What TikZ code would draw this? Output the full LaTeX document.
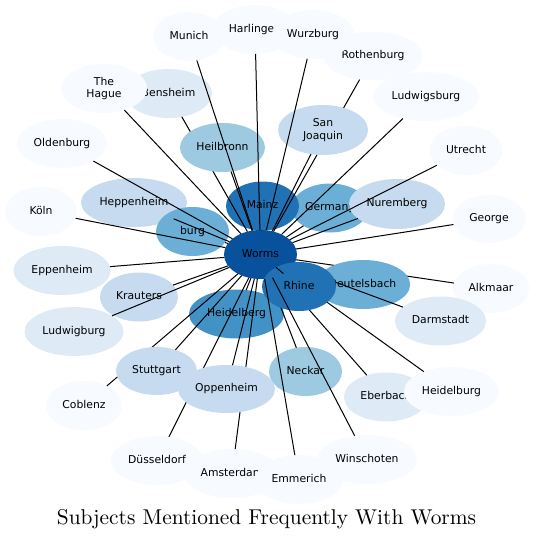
\documentclass[tikz,border=0pt]{standalone}
\usepackage{fontspec}
\newfontfamily\djv{DejaVu Sans}
\newfontfamily\lmten{lmroman10-regular}[Extension=.otf]
\usetikzlibrary{shapes.geometric}
\definecolor{cA}{HTML}{F7FBFF}
\definecolor{cB}{HTML}{DEEBF7}
\definecolor{cC}{HTML}{C6DBEF}
\definecolor{cD}{HTML}{9ECAE1}
\definecolor{cE}{HTML}{6BAED6}
\definecolor{cF}{HTML}{4292C6}
\definecolor{cG}{HTML}{2171B5}
\definecolor{cH}{HTML}{08519C}
\tikzset{
  city/.style={ellipse, inner sep=0pt, outer sep=0pt, draw=none,
    font=\djv\fontsize{10.8}{12.4}\selectfont, text=black,
    text height=0.7em, text depth=0.15em},
  twoline/.style={align=center, text height=, text depth=},
  wire/.style={line width=1pt, black},
  titlefont/.style={font=\lmten\fontsize{21.4}{25}\selectfont}
}
\begin{document}
\begin{tikzpicture}[x=1pt,y=-1pt]
\useasboundingbox (0,0) rectangle (534,540);
% ---------- phase 1 nodes ----------
\node[city, fill=cA, minimum width=72pt, minimum height=49pt] (munich) at (189,36.5) {Munich};
\node[city, fill=cA, minimum width=84pt, minimum height=49pt] (harlingen) at (255,29.5) {Harlingen};
\node[city, fill=cA, minimum width=99pt, minimum height=49pt] (rothenburg) at (373,56) {Rothenburg};
\node[city, fill=cA, minimum width=82pt, minimum height=49pt] (wurzburg) at (313,34.5) {Wurzburg};
\node[city, fill=cA, minimum width=106pt, minimum height=49pt] (ludwigsburg) at (426,96.5) {Ludwigsburg};
\node[city, fill=cA, minimum width=73pt, minimum height=49pt] (utrecht) at (466,150.5) {Utrecht};
\node[city, fill=cB, minimum width=87pt, minimum height=49pt] (bensheim) at (168.5,93.5) {Bensheim};
\node[city, twoline, fill=cA, minimum width=86pt, minimum height=49pt] (hague) at (104,88.5) {The\\Hague};
\node[city, fill=cA, minimum width=90pt, minimum height=49pt] (oldenburg) at (62,143.5) {Oldenburg};
\node[city, fill=cA, minimum width=72pt, minimum height=49pt] (koln) at (41,211.5) {Köln};
\node[city, fill=cC, minimum width=106pt, minimum height=49pt] (heppenheim) at (134,202.5) {Heppenheim};
\node[city, fill=cE, minimum width=73pt, minimum height=49pt] (burg) at (192.5,231.5) {burg};
\node[city, fill=cE, minimum width=77pt, minimum height=49pt] (germany) at (330,208) {Germany};
\node[city, fill=cG, minimum width=73pt, minimum height=49pt] (mainz) at (262.5,206) {Mainz};
\node[city, fill=cC, minimum width=96pt, minimum height=50pt] (nuremberg) at (397,204) {Nuremberg};
\node[city, fill=cA, minimum width=73pt, minimum height=48pt] (george) at (489,219) {George};
\node[city, fill=cB, minimum width=97pt, minimum height=49pt] (eppenheim) at (62,270.5) {Eppenheim};
\node[city, fill=cB, minimum width=99pt, minimum height=49pt] (ludwigburg) at (74,331.5) {Ludwigburg};
\node[city, fill=cC, minimum width=78pt, minimum height=49pt] (krauters) at (139,297) {Krauters};
\node[city, fill=cH, minimum width=73pt, minimum height=49pt] (worms) at (260.5,254.5) {Worms};
\node[city, fill=cF, minimum width=95pt, minimum height=49pt] (heidelberg) at (236.5,314) {Heidelberg};
\node[city, fill=cA, minimum width=76pt, minimum height=49pt] (alkmaar) at (491,288.5) {Alkmaar};
\node[city, fill=cB, minimum width=91pt, minimum height=49pt] (darmstadt) at (440.5,321) {Darmstadt};
\node[city, fill=cA, minimum width=76pt, minimum height=49pt] (coblenz) at (84,405.5) {Coblenz};
\node[city, fill=cA, minimum width=92pt, minimum height=49pt] (dusseldorf) at (157,460.5) {Düsseldorf};
\node[city, fill=cA, minimum width=97pt, minimum height=49pt] (amsterdam) at (232,473.5) {Amsterdam};
\node[city, fill=cA, minimum width=88pt, minimum height=49pt] (emmerich) at (299,479.5) {Emmerich};
\node[city, fill=cA, minimum width=100pt, minimum height=49pt] (winschoten) at (367,459.5) {Winschoten};
\node[city, fill=cD, minimum width=73pt, minimum height=49pt] (neckar) at (305.5,371.5) {Neckar};
\node[city, fill=cB, minimum width=84pt, minimum height=49pt] (eberbach) at (386,397) {Eberbach};
\node[city, fill=cA, minimum width=95pt, minimum height=49pt] (heidelburg) at (451.5,391.5) {Heidelburg};
% ---------- phase 1 edges ----------
\draw[wire] (worms) -- (bensheim);
\draw[wire] (worms) -- (rothenburg);
\draw[wire] (worms) -- (coblenz);
\draw[wire] (worms) -- (dusseldorf);
\draw[wire] (worms) -- (amsterdam);
\draw[wire] (worms) -- (alkmaar);
\draw[wire] (worms) -- (neckar);
\draw[wire] (worms) -- (eberbach);
\draw[wire] (worms) -- (heidelburg);
% ---------- phase 2 nodes ----------
\node[city, fill=cD, minimum width=85pt, minimum height=49pt] (heilbronn) at (222.5,147.5) {Heilbronn};
\node[city, twoline, fill=cC, minimum width=90pt, minimum height=50pt] (sanjoaquin) at (323,130) {San\\Joaquin};
\node[city, fill=cC, minimum width=81pt, minimum height=48pt] (stuttgart) at (156.5,371) {Stuttgart};
\node[city, fill=cC, minimum width=97pt, minimum height=48pt] (oppenheim) at (226.5,389) {Oppenheim};
\node[city, fill=cE, minimum width=94pt, minimum height=49pt] (beutelsbach) at (363,284.5) {Beutelsbach};
\draw[wire] (worms) -- (beutelsbach);
\draw[wire] (worms) -- (darmstadt);
% ---------- phase 3 ----------
\node[city, fill=cG, minimum width=74pt, minimum height=49pt] (rhine) at (299,286.5) {Rhine};
\foreach \t in {munich,harlingen,wurzburg,ludwigsburg,utrecht,hague,oldenburg,koln,
  heppenheim,burg,mainz,germany,nuremberg,george,eppenheim,krauters,ludwigburg,
  heidelberg,rhine,stuttgart,oppenheim,emmerich,winschoten,heilbronn,sanjoaquin}
  \draw[wire] (worms) -- (\t);
% ---------- title ----------
\node[titlefont, anchor=base, inner sep=0pt] (title) at (266.5,524) {Subjects Mentioned Frequently With Worms};
\end{tikzpicture}
\end{document}
